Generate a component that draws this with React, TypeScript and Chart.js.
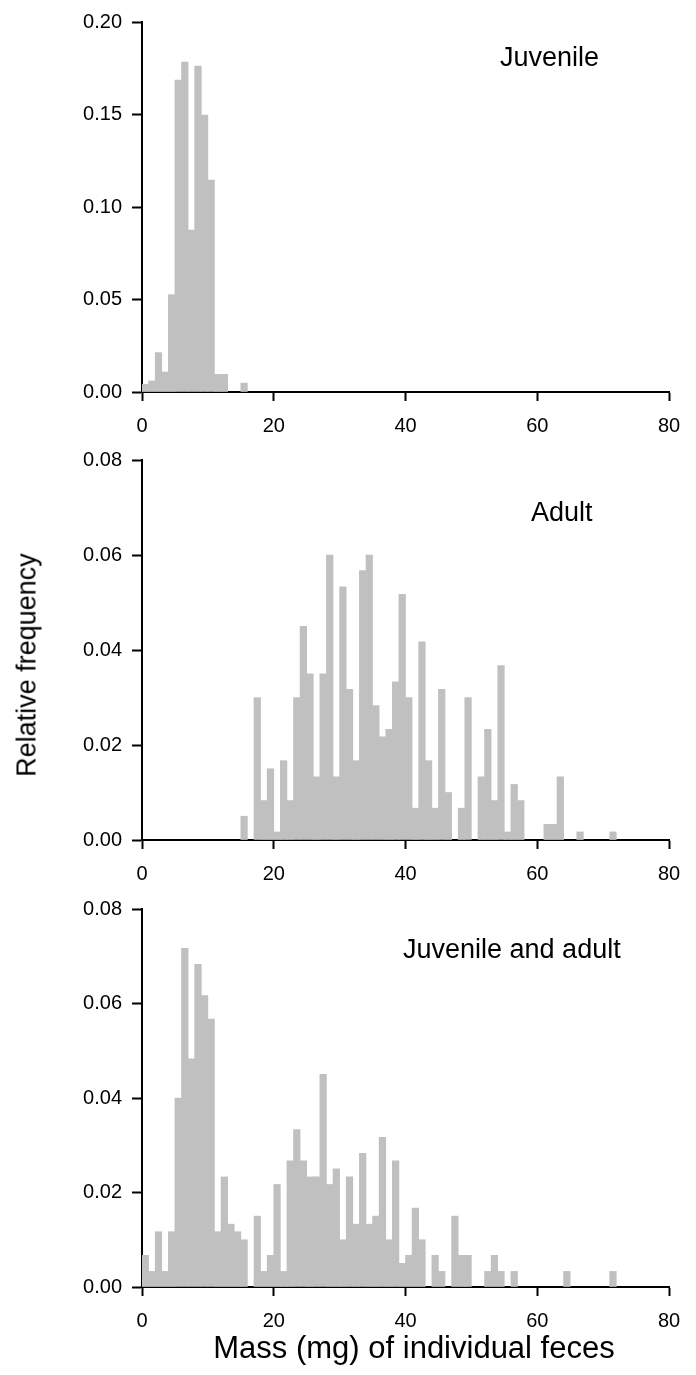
import React, { useEffect, useRef } from "react";
import { Chart, registerables } from "chart.js";

Chart.register(...registerables);

// Bin lower edges (mg) and relative frequencies, 1-mg bins
const juvenileBins = [0, 1, 2, 3, 4, 5, 6, 7, 8, 9, 10, 11, 12, 15];
const juvenileFreq = [0.0042, 0.006, 0.0213, 0.0108, 0.0526, 0.1686, 0.1783, 0.0875, 0.1762, 0.1497, 0.1145, 0.0095, 0.0095, 0.0048];

const adultBins = [15, 17, 18, 19, 20, 21, 22, 23, 24, 25, 26, 27, 28, 29, 30, 31, 32, 33, 34, 35, 36, 37, 38, 39, 40, 41, 42, 43, 44, 45, 46, 48, 49, 51, 52, 53, 54, 55, 56, 57, 61, 62, 63, 66, 71];
const adultFreq = [0.005, 0.03, 0.0083, 0.015, 0.0017, 0.0167, 0.0083, 0.03, 0.045, 0.035, 0.0133, 0.035, 0.06, 0.0133, 0.0533, 0.0317, 0.0167, 0.0567, 0.06, 0.0283, 0.0217, 0.0233, 0.0333, 0.0517, 0.03, 0.0067, 0.0417, 0.0167, 0.0067, 0.0317, 0.01, 0.0067, 0.03, 0.0133, 0.0233, 0.0083, 0.0367, 0.0017, 0.0117, 0.0083, 0.0033, 0.0033, 0.0133, 0.0017, 0.0017];

const bothBins = [0, 1, 2, 3, 4, 5, 6, 7, 8, 9, 10, 11, 12, 13, 14, 15, 17, 18, 19, 20, 21, 22, 23, 24, 25, 26, 27, 28, 29, 30, 31, 32, 33, 34, 35, 36, 37, 38, 39, 40, 41, 42, 44, 45, 47, 48, 49, 52, 53, 54, 56, 64, 71];
const bothFreq = [0.0067, 0.0033, 0.0117, 0.0033, 0.0117, 0.04, 0.0717, 0.0483, 0.0683, 0.0617, 0.0567, 0.0117, 0.0233, 0.0133, 0.0117, 0.01, 0.015, 0.0033, 0.0067, 0.0217, 0.0033, 0.0267, 0.0333, 0.0267, 0.0233, 0.0233, 0.045, 0.0217, 0.025, 0.01, 0.0233, 0.0133, 0.0283, 0.0133, 0.015, 0.0317, 0.01, 0.0267, 0.005, 0.0067, 0.0167, 0.01, 0.0067, 0.0033, 0.015, 0.0067, 0.0067, 0.0033, 0.0067, 0.0033, 0.0033, 0.0033, 0.0033];

const xTicks = [0, 20, 40, 60, 80];
const topTicks = [0, 0.05, 0.1, 0.15, 0.2];
const lowerTicks = [0, 0.02, 0.04, 0.06, 0.08];

const FONT = "'Liberation Sans', Arial, Helvetica, sans-serif";
const BAR = "#c0c0c0";

type PanelProps = {
  top: number;
  height: number;
  padTop: number;
  bins: number[];
  freq: number[];
  yTicks: number[];
};

function Panel({ top, height, padTop, bins, freq, yTicks }: PanelProps) {
  const ref = useRef<HTMLCanvasElement>(null);
  useEffect(() => {
    const yMax = yTicks[yTicks.length - 1];
    const chart = new Chart(ref.current as HTMLCanvasElement, {
      type: "bar",
      data: {
        datasets: [
          {
            data: bins.map((b, i) => ({ x: b + 0.5, y: freq[i] })),
            backgroundColor: BAR,
            borderWidth: 0,
            barPercentage: 1,
            categoryPercentage: 1,
          },
        ],
      },
      options: {
        responsive: false,
        animation: false,
        events: [],
        layout: { padding: { top: padTop, right: 27, left: 0, bottom: 0 } },
        plugins: { legend: { display: false }, tooltip: { enabled: false }, title: { display: false } },
        scales: {
          x: {
            type: "linear",
            min: xTicks[0],
            max: xTicks[xTicks.length - 1],
            offset: false,
            afterBuildTicks: (s: any) => {
              s.ticks = xTicks.map((v) => ({ value: v }));
            },
            afterFit: (s: any) => {
              s.height = 55;
            },
            grid: {
              display: true,
              drawOnChartArea: false,
              drawTicks: true,
              tickLength: 9,
              tickWidth: 2,
              tickColor: "#000",
              color: "#000",
              offset: false,
            },
            border: { display: true, color: "#000", width: 2 },
            ticks: {
              color: "#000",
              padding: 13,
              maxRotation: 0,
              font: { family: FONT, size: 20 },
              callback: (v: any) => String(v),
            },
          },
          y: {
            type: "linear",
            min: 0,
            max: yMax,
            afterBuildTicks: (s: any) => {
              s.ticks = yTicks.map((v) => ({ value: v }));
            },
            afterFit: (s: any) => {
              s.width = 142;
            },
            grid: {
              display: true,
              drawOnChartArea: false,
              drawTicks: true,
              tickLength: 10,
              tickWidth: 2,
              tickColor: "#000",
              color: "#000",
            },
            border: { display: true, color: "#000", width: 2 },
            ticks: {
              color: "#000",
              padding: 10,
              font: { family: FONT, size: 20 },
              callback: (v: any) => Number(v).toFixed(2),
            },
          },
        },
      },
    } as any);
    return () => chart.destroy();
  }, []);
  return (
    <canvas
      ref={ref}
      width={696}
      height={height}
      style={{ position: "absolute", left: 0, top, width: 696, height }}
    />
  );
}

const label: React.CSSProperties = {
  position: "absolute",
  fontFamily: FONT,
  lineHeight: 1,
  whiteSpace: "nowrap",
  color: "#000",
};

export default function App() {
  return (
    <div style={{ position: "absolute", left: 0, top: 0, width: 696, height: 1375, background: "#fff", overflow: "hidden" }}>
      <Panel top={0} height={447} padTop={15} bins={juvenileBins} freq={juvenileFreq} yTicks={topTicks} />
      <Panel top={430} height={465} padTop={30} bins={adultBins} freq={adultFreq} yTicks={lowerTicks} />
      <Panel top={880} height={462} padTop={29} bins={bothBins} freq={bothFreq} yTicks={lowerTicks} />
      <div style={{ ...label, left: 500, top: 44, fontSize: 27 }}>Juvenile</div>
      <div style={{ ...label, left: 531, top: 499, fontSize: 27 }}>Adult</div>
      <div style={{ ...label, left: 403, top: 936, fontSize: 27 }}>Juvenile and adult</div>
      <div
        style={{
          ...label,
          left: 27,
          top: 665,
          fontSize: 27,
          transform: "translate(-50%, -50%) rotate(-90deg)",
        }}
      >
        Relative frequency
      </div>
      <div style={{ ...label, left: 414, top: 1332, fontSize: 31, transform: "translateX(-50%)" }}>
        Mass (mg) of individual feces
      </div>
    </div>
  );
}
